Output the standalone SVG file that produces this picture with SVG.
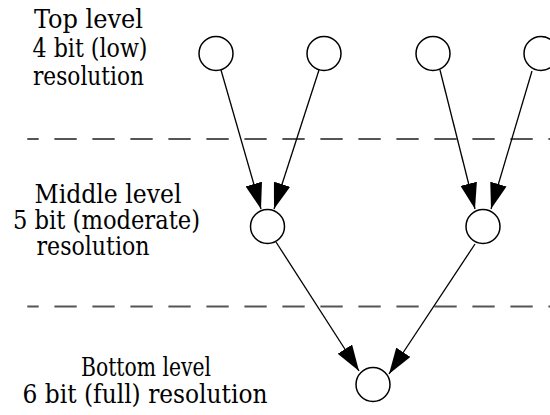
<svg xmlns="http://www.w3.org/2000/svg" width="550" height="415" viewBox="0 0 550 415">
  <style>
    .label { font-family: "DejaVu Serif Condensed", "DejaVu Serif", serif; font-stretch: condensed; font-size: 26px; fill: #000; text-anchor: middle; }
    .node circle { fill: #fff; stroke: #000; stroke-width: 1.5; }
    .edge { stroke: #000; stroke-width: 1.3; fill: none; marker-end: url(#arrow); }
    .divider { stroke: #555; stroke-width: 2; stroke-dasharray: 22.3 15.7; stroke-dashoffset: 10.9; }
  </style>
  <defs>
    <marker id="arrow" markerUnits="userSpaceOnUse" viewBox="0 0 26 17" refX="26" refY="8.5" markerWidth="26" markerHeight="17" orient="auto">
      <path d="M0,0 L26,8.5 L0,17 z" fill="#000"/>
    </marker>
  </defs>
  <rect width="550" height="415" fill="#fff"/>

  <!-- level dividers -->
  <g id="dividers">
    <line class="divider" x1="27.3" y1="139" x2="550" y2="139"/>
    <line class="divider" x1="27.3" y1="306.5" x2="550" y2="306.5"/>
  </g>

  <!-- level labels -->
  <g id="label-top">
    <text class="label" x="88.5" y="27.5" textLength="109" lengthAdjust="spacingAndGlyphs">Top level</text>
    <text class="label" x="90" y="56.5" textLength="115" lengthAdjust="spacingAndGlyphs">4 bit (low)</text>
    <text class="label" x="88.5" y="85" textLength="111" lengthAdjust="spacingAndGlyphs">resolution</text>
  </g>
  <g id="label-middle">
    <text class="label" x="108" y="203" textLength="147" lengthAdjust="spacingAndGlyphs">Middle level</text>
    <text class="label" x="106.5" y="229" textLength="187" lengthAdjust="spacingAndGlyphs">5 bit (moderate)</text>
    <text class="label" x="93" y="255" textLength="113" lengthAdjust="spacingAndGlyphs">resolution</text>
  </g>
  <g id="label-bottom">
    <text class="label" x="146" y="376" textLength="130" lengthAdjust="spacingAndGlyphs">Bottom level</text>
    <text class="label" x="145" y="403" textLength="245" lengthAdjust="spacingAndGlyphs">6 bit (full) resolution</text>
  </g>

  <!-- connectors -->
  <g id="connectors">
    <line class="edge" x1="221" y1="70" x2="261" y2="209"/>
    <line class="edge" x1="319" y1="70" x2="274" y2="209"/>
    <line class="edge" x1="440" y1="70" x2="475" y2="209"/>
    <line class="edge" x1="532" y1="71" x2="491" y2="209"/>
    <line class="edge" x1="276" y1="242" x2="359" y2="371"/>
    <line class="edge" x1="475" y1="244" x2="389" y2="374"/>
  </g>

  <!-- nodes -->
  <g id="top-1" class="node"><circle cx="216" cy="53.5" r="17"/></g>
  <g id="top-2" class="node"><circle cx="324" cy="53.5" r="17"/></g>
  <g id="top-3" class="node"><circle cx="433" cy="53.5" r="17"/></g>
  <g id="top-4" class="node"><circle cx="541" cy="53.5" r="17"/></g>
  <g id="middle-1" class="node"><circle cx="267.5" cy="226.5" r="17"/></g>
  <g id="middle-2" class="node"><circle cx="483" cy="226.5" r="17"/></g>
  <g id="bottom" class="node"><circle cx="373" cy="384.5" r="17"/></g>
</svg>
